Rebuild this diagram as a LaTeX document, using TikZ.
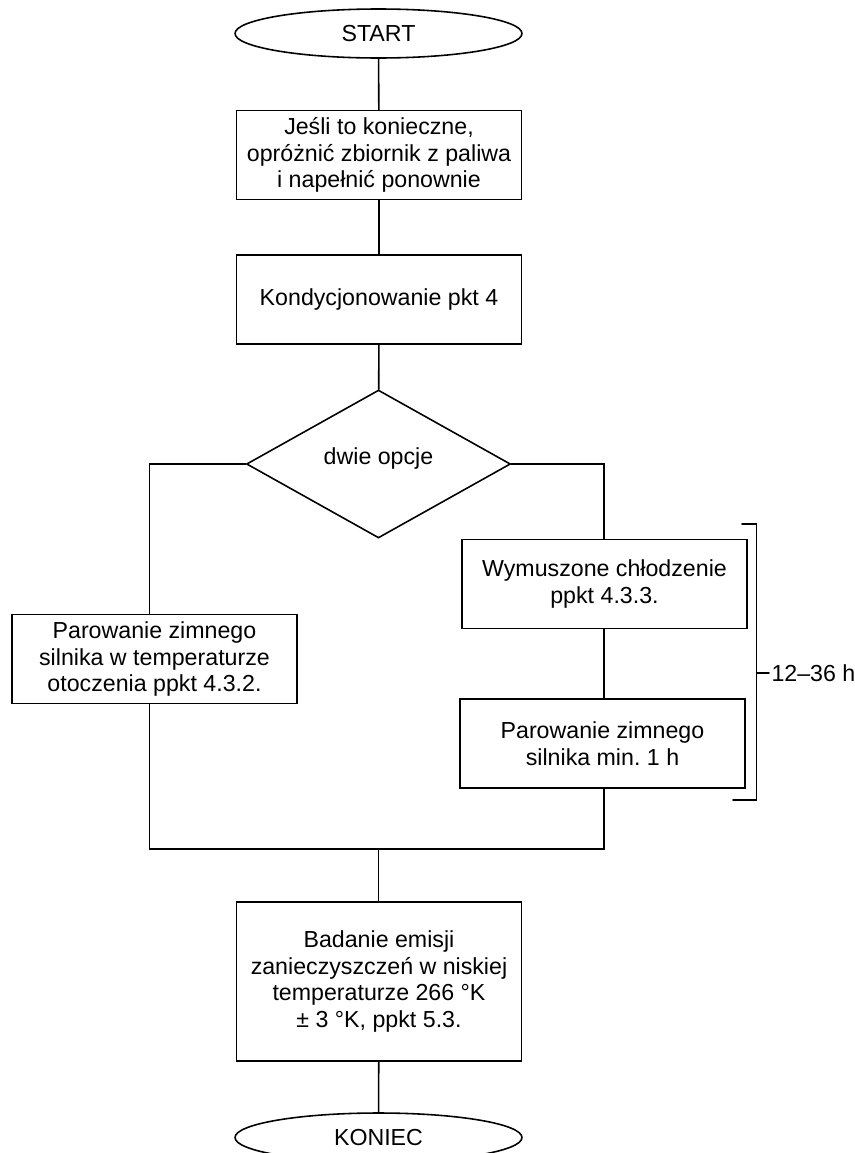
\documentclass[tikz,border=0pt]{standalone}
\usepackage{fontspec}
\setmainfont{Liberation Sans}
\usetikzlibrary{shapes.geometric,positioning}
\frenchspacing

\begin{document}
\begin{tikzpicture}[x=0.02cm,y=-0.02cm,line width=0.9pt,line cap=round,
  every node/.style={font=\fontsize{13.2}{15.2}\selectfont},
  term/.style={draw,ellipse,minimum width=5.74cm,minimum height=0.98cm,inner sep=0pt},
  krok/.style={draw,rectangle,minimum width=5.7cm,minimum height=1.78cm,align=center,inner sep=2pt},
  wybor/.style={draw,diamond,minimum width=5.28cm,minimum height=2.96cm,inner sep=0pt,text height=1.6ex,text depth=1.6ex}]
  \useasboundingbox (0,0) rectangle (855,1153);

  \node[term] (start) at (378.5,33.5) {START};
  \node[krok] (oproz) at (379,155) {Jeśli to konieczne,\\opróżnić zbiornik z paliwa\\i napełnić ponownie};
  \node[krok] (kond) at (379,299.5) {Kondycjonowanie pkt 4};
  \node[wybor] (opcje) at (378.5,464) {dwie opcje};
  \node[krok] (otocz) at (154.5,659) {Parowanie zimnego\\silnika w temperaturze\\otoczenia ppkt 4.3.2.};
  \node[krok] (chlod) at (604.5,584) {Wymuszone chłodzenie\\ppkt 4.3.3.};
  \node[krok] (parow) at (602.5,743.5) {Parowanie zimnego\\silnika min. 1 h};
  \node[krok,minimum height=3.18cm] (badanie) at (379,981.5) {Badanie emisji\\zanieczyszczeń w niskiej\\temperaturze 266 °K\\± 3 °K, ppkt 5.3.};
  \node[term] (koniec) at (378.5,1137.5) {KONIEC};

  % wezly pomocnicze
  \coordinate (lewa) at (149.5,849);
  \coordinate (prawa) at (604,849);
  \coordinate (zbieg) at (378.7,849);

  \draw (start) -- (oproz);
  \draw (oproz) -- (kond);
  \draw (kond) -- (opcje);
  \draw (opcje.west) -| (lewa |- otocz.north);
  \draw (opcje.east) -| (prawa |- chlod.north);
  \draw (chlod.south -| prawa) -- (prawa |- parow.north);
  \draw (otocz.south -| lewa) -- (lewa) -- (prawa) -- (parow.south -| prawa);
  \draw (zbieg) -- (badanie.north -| zbieg);
  \draw (badanie) -- (koniec);

  % klamra 12--36 h
  \draw (742,524) -- (756.7,524) -- (756.7,800) -- (733,800);
  \node[anchor=west,inner sep=1pt] (czas) at (769,673) {12–36 h};
  \draw (756.7,673) -- (czas.west);
\end{tikzpicture}
\end{document}
